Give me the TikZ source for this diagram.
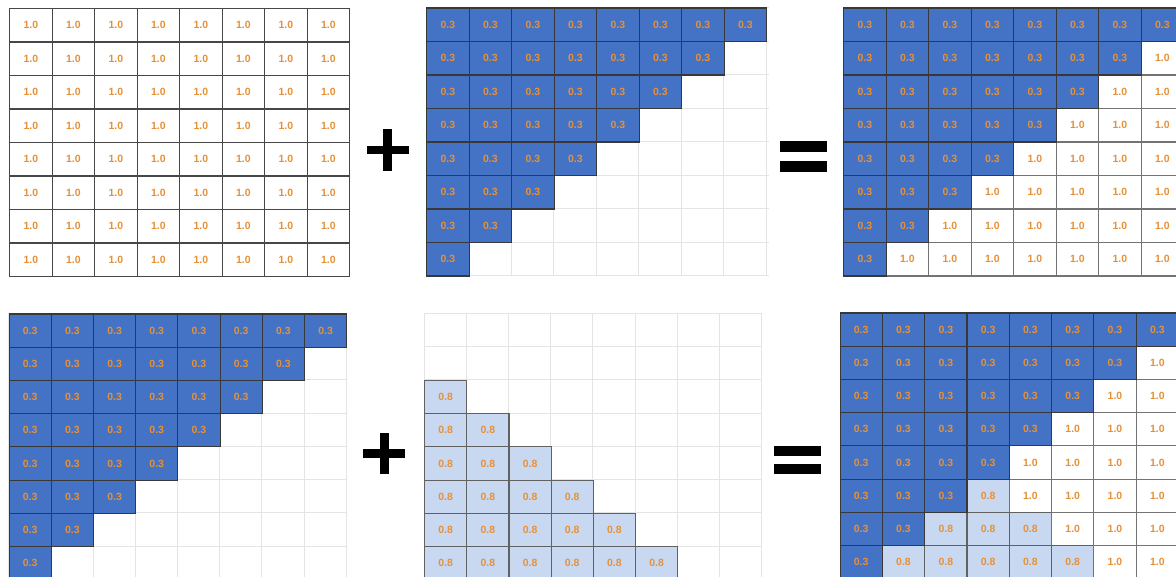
\documentclass[tikz,border=0pt]{standalone}
\usepackage{fontspec}
\setmainfont{Liberation Sans}
\definecolor{cellblue}{HTML}{4472C4}
\definecolor{celllight}{HTML}{C9D8F1}
\definecolor{numorange}{HTML}{E69138}
\definecolor{gridgray}{HTML}{E4E4E4}
\tikzset{
  cell/.style={minimum width=\cw pt, minimum height=\ch pt, inner sep=0pt,
    anchor=north west, font=\fontsize{10.5}{12}\selectfont\bfseries,
    text=numorange, line width=1.1pt},
  whitecell/.style={cell, fill=white, draw=black!72},
  whitecellb/.style={cell, fill=white, draw=black!55},
  bluecell/.style={cell, fill=cellblue, draw=black!78},
  lightcell/.style={cell, fill=celllight, draw=black!62},
  lightgrid/.style={gridgray, line width=0.8pt},
  opbar/.style={fill=black, draw=none, inner sep=0pt}
}
\begin{document}
\begin{tikzpicture}[x=1pt,y=-1pt]
\useasboundingbox (0,0) rectangle (1176,577);
\clip (0,0) rectangle (1176,577);

% ---------- grid 1: all ones ----------
\begin{scope}[shift={(9,8)}]
\def\cw{42.5}\def\ch{33.5}
\foreach \r in {0,...,7}\foreach \c in {0,...,7}
  \node[whitecell] (a-\r-\c) at (\c*\cw,\r*\ch) {1.0};
\end{scope}

% ---------- grid 2: blue triangle ----------
\begin{scope}[shift={(426,7.5)}]
\def\cw{42.5}\def\ch{33.5}
\foreach \i in {0,...,8}{
  \draw[lightgrid] (\i*\cw,0) -- (\i*\cw,8*\ch);
  \draw[lightgrid] (0,\i*\ch) -- (8*\cw+3,\i*\ch);}
\foreach \r in {0,...,7}{
  \pgfmathtruncatemacro\n{7-\r}
  \foreach \c in {0,...,\n}
    \node[bluecell] (b-\r-\c) at (\c*\cw,\r*\ch) {0.3};}
\end{scope}

% ---------- grid 3: sum ----------
\begin{scope}[shift={(843,7.5)}]
\def\cw{42.5}\def\ch{33.5}
\foreach \r in {0,...,7}\foreach \c in {0,...,7}{
  \pgfmathtruncatemacro\isblue{\c<8-\r}
  \ifnum\isblue=0 \node[whitecellb] (c-\r-\c) at (\c*\cw,\r*\ch) {1.0};\fi}
\foreach \r in {0,...,7}{
  \pgfmathtruncatemacro\n{7-\r}
  \foreach \c in {0,...,\n}
    \node[bluecell] (c-\r-\c) at (\c*\cw,\r*\ch) {0.3};}
\end{scope}

% ---------- grid 4: blue triangle ----------
\begin{scope}[shift={(8.5,313.5)}]
\def\cw{42.2}\def\ch{33.2}
\foreach \i in {0,...,8}{
  \draw[lightgrid] (\i*\cw,0) -- (\i*\cw,8*\ch);
  \draw[lightgrid] (0,\i*\ch) -- (8*\cw,\i*\ch);}
\foreach \r in {0,...,7}{
  \pgfmathtruncatemacro\n{7-\r}
  \foreach \c in {0,...,\n}
    \node[bluecell] (d-\r-\c) at (\c*\cw,\r*\ch) {0.3};}
\end{scope}

% ---------- grid 5: light triangle ----------
\begin{scope}[shift={(424,313.5)}]
\def\cw{42.2}\def\ch{33.2}
\foreach \i in {0,...,8}{
  \draw[lightgrid] (\i*\cw,0) -- (\i*\cw,8*\ch);
  \draw[lightgrid] (0,\i*\ch) -- (8*\cw,\i*\ch);}
\foreach \r in {2,...,7}{
  \pgfmathtruncatemacro\n{\r-2}
  \foreach \c in {0,...,\n}
    \node[lightcell] (e-\r-\c) at (\c*\cw,\r*\ch) {0.8};}
\end{scope}

% ---------- grid 6: sum ----------
\begin{scope}[shift={(839.5,312.5)}]
\def\cw{42.3}\def\ch{33.2}
\foreach \r in {0,...,7}\foreach \c in {0,...,7}{
  \pgfmathtruncatemacro\isblue{\c<8-\r}
  \pgfmathtruncatemacro\islight{\c<\r-1}
  \ifnum\isblue=0
    \ifnum\islight=1
      \node[lightcell] (f-\r-\c) at (\c*\cw,\r*\ch) {0.8};
    \else
      \node[whitecellb] (f-\r-\c) at (\c*\cw,\r*\ch) {1.0};
    \fi
  \fi}
\foreach \r in {0,...,7}{
  \pgfmathtruncatemacro\n{7-\r}
  \foreach \c in {0,...,\n}
    \node[bluecell] (f-\r-\c) at (\c*\cw,\r*\ch) {0.3};}
\end{scope}

% ---------- operators ----------
\node[opbar, minimum width=42pt, minimum height=8.5pt] (plus1h) at (387.5,150.2) {};
\node[opbar, minimum width=9pt, minimum height=42pt] (plus1v) at (387.8,150.2) {};
\node[opbar, minimum width=47pt, minimum height=10.5pt] (eq1a) at (803.7,146.3) {};
\node[opbar, minimum width=47pt, minimum height=10.5pt] (eq1b) at (803.7,166.3) {};
\node[opbar, minimum width=42pt, minimum height=8.5pt] (plus2h) at (384.2,453.5) {};
\node[opbar, minimum width=9pt, minimum height=41pt] (plus2v) at (384.5,453.8) {};
\node[opbar, minimum width=47pt, minimum height=10pt] (eq2a) at (797.3,450.7) {};
\node[opbar, minimum width=47pt, minimum height=10pt] (eq2b) at (797.3,469.2) {};
\end{tikzpicture}
\end{document}
